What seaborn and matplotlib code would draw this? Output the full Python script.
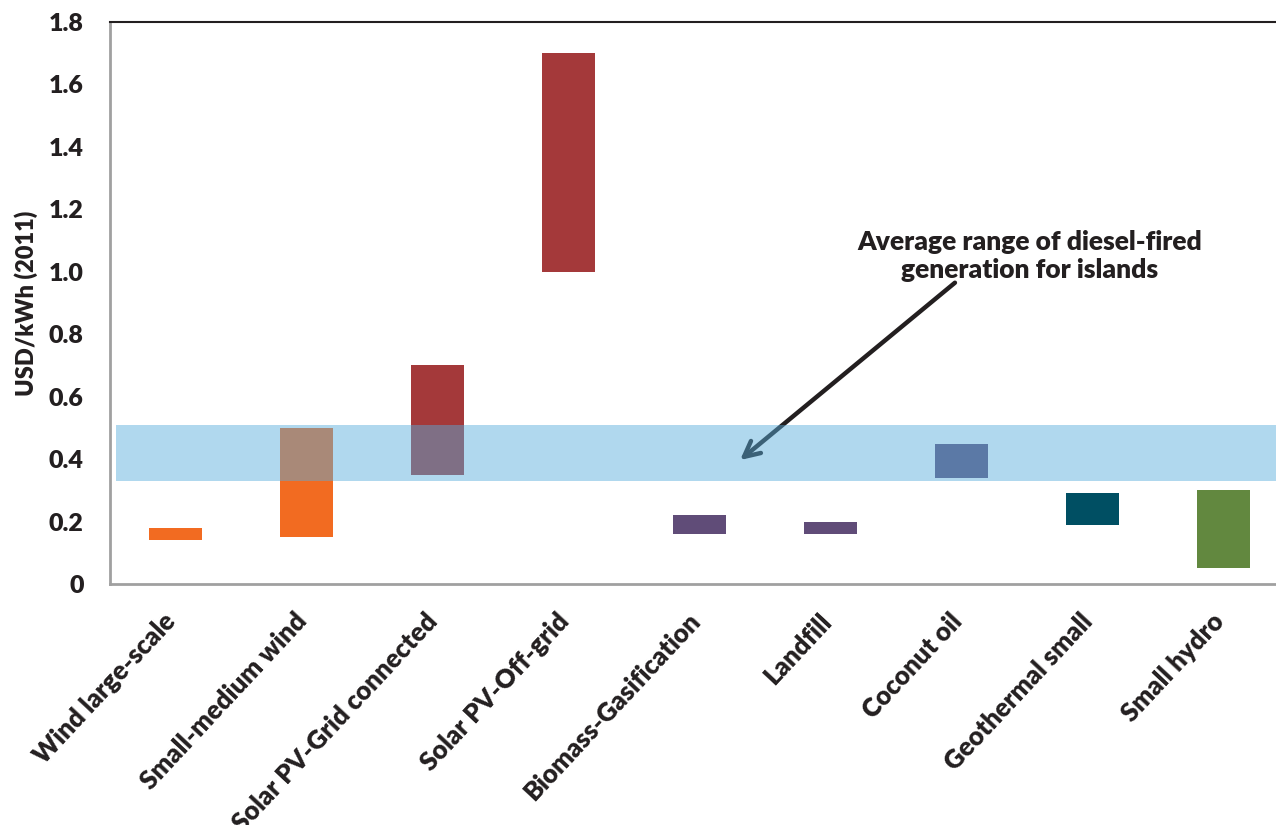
import matplotlib
matplotlib.use('Agg')
import matplotlib.pyplot as plt
import matplotlib.transforms as mtrans
import seaborn as sns
import numpy as np

categories = ['Wind large-scale', 'Small-medium wind', 'Solar PV-Grid connected',
              'Solar PV-Off-grid', 'Biomass-Gasification', 'Landfill',
              'Coconut oil', 'Geothermal small', 'Small hydro']
low = [0.14, 0.15, 0.35, 1.00, 0.16, 0.16, 0.34, 0.19, 0.05]
high = [0.18, 0.50, 0.70, 1.70, 0.22, 0.20, 0.45, 0.29, 0.30]
bar_colors = ['#F26B21', '#F26B21', '#A4393A', '#A4393A', '#604C78',
              '#604C78', '#604C78', '#004F63', '#62883F']
diesel_range = (0.33, 0.51)
y_ticks = [0, 0.2, 0.4, 0.6, 0.8, 1.0, 1.2, 1.4, 1.6, 1.8]
y_ticklabels = ['0', '0.2', '0.4', '0.6', '0.8', '1.0', '1.2', '1.4', '1.6', '1.8']

sns.set_style('white')
plt.rcParams['font.family'] = ['Lato', 'DejaVu Sans']
plt.rcParams['font.weight'] = 'bold'
txt = '#231F20'
wt = 'heavy'

fig = plt.figure(figsize=(12.76, 8.25), dpi=100)
ax = fig.add_axes([110 / 1276, 241 / 825, 1179 / 1276, 562 / 825])

heights = np.array(high) - np.array(low)
sns.barplot(x=categories, y=heights, bottom=low, width=0.40, ax=ax,
            color=bar_colors[0], saturation=1, zorder=2)
for patch, c in zip(ax.patches, bar_colors):
    patch.set_facecolor(c)
    patch.set_edgecolor('none')

# diesel band on top, semi-transparent
ax.axhspan(diesel_range[0], diesel_range[1], xmin=0.005, xmax=1,
           color='#57ACDB', alpha=0.47, lw=0, zorder=4)

ax.annotate('', xy=(4.31, 0.397), xytext=(5.95, 0.965),
            arrowprops=dict(arrowstyle='->', color=txt, lw=3.2,
                            mutation_scale=28, shrinkA=0, shrinkB=0),
            zorder=3)
ax.text(6.52, 1.05, 'Average range of diesel-fired\ngeneration for islands',
        ha='center', va='center', fontsize=19, fontweight=wt, color=txt,
        linespacing=1.2)

ax.set_xlim(-0.5, 8.5)
ax.set_ylim(0, 1.8)
ax.set_yticks(y_ticks)
ax.set_yticklabels(y_ticklabels)
ax.set_xticks(range(len(categories)))
ax.set_xticks(np.arange(-0.5, 9, 1), minor=True)
ax.set_xticklabels(categories, rotation=47, ha='right', va='top')
ax.tick_params(axis='x', which='major', length=0, pad=18, labelsize=18.5, labelcolor=txt)
ax.tick_params(axis='x', which='minor', length=7, width=1.5, color='#A6A6A6', direction='out')
ax.tick_params(axis='y', length=7, width=1.5, color='#A6A6A6', direction='out',
               labelsize=18, labelcolor=txt, pad=12)
shift = mtrans.ScaledTranslation(5 / 100, 0, fig.dpi_scale_trans)
for lab in ax.get_xticklabels():
    lab.set_fontweight(wt)
    lab.set_transform(lab.get_transform() + shift)
for lab in ax.get_yticklabels():
    lab.set_fontweight(wt)

ax.set_ylabel('USD/kWh (2011)', fontsize=17, fontweight=wt, color=txt, labelpad=8)
ax.set_xlabel('')

for s in ['left', 'bottom']:
    ax.spines[s].set_color('#A0A0A0')
    ax.spines[s].set_linewidth(2)
ax.spines['top'].set_color(txt)
ax.spines['top'].set_linewidth(1.5)
ax.spines['right'].set_visible(False)

fig.savefig('out.png', dpi=100)
